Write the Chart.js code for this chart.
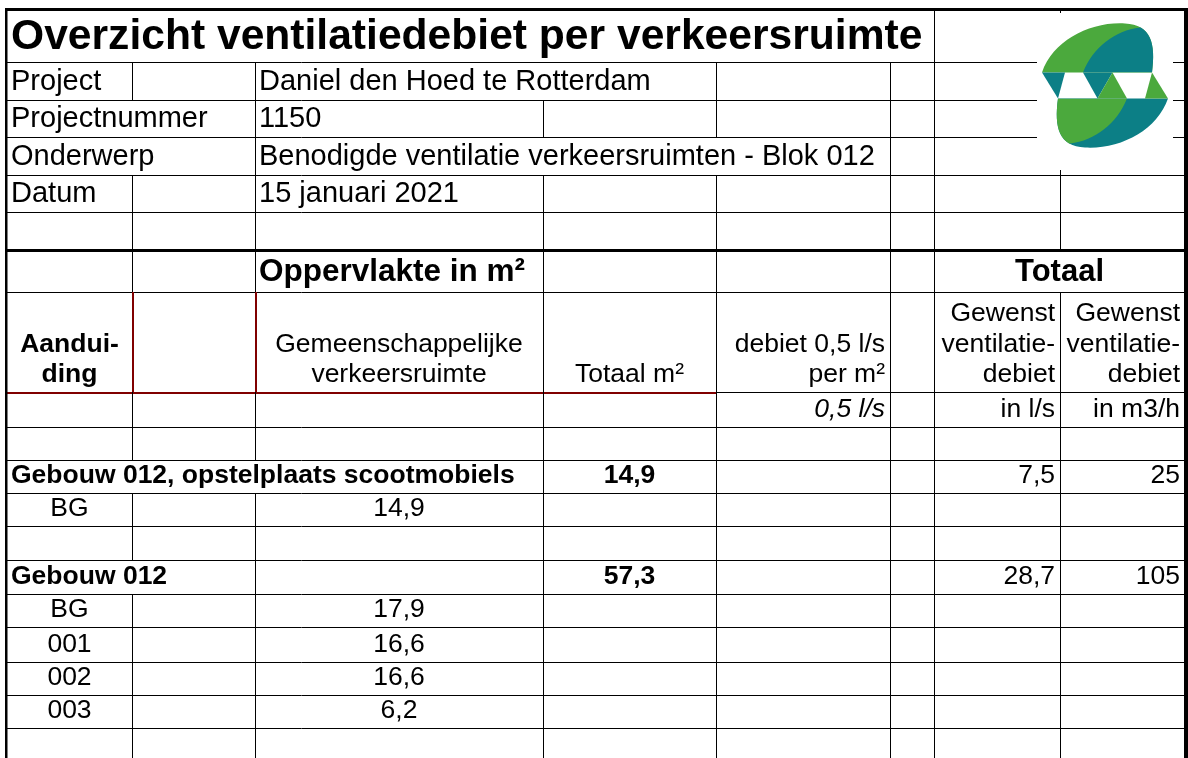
<!DOCTYPE html>
<html lang="nl">
<head>
<meta charset="utf-8">
<title>Overzicht ventilatiedebiet per verkeersruimte</title>
<script src="https://cdn.jsdelivr.net/npm/chart.js@4.4.1/dist/chart.umd.min.js"></script>
<style>
  html, body { margin: 0; padding: 0; background: #fff; }
  #sheet { display: block; }
</style>
</head>
<body>
<canvas id="sheet" width="1188" height="758"></canvas>
<script>
// sheet contents
var title = 'Overzicht ventilatiedebiet per verkeersruimte';
var infoLabels = ['Project', 'Projectnummer', 'Onderwerp', 'Datum'];
var infoValues = ['Daniel den Hoed te Rotterdam', '1150', 'Benodigde ventilatie verkeersruimten - Blok 012', '15 januari 2021'];
var flowPerM2 = '0,5 l/s';
var groups = ['Gebouw 012, opstelplaats scootmobiels', 'Gebouw 012'];
var groupArea = [14.9, 57.3];
var groupFlowLs = [7.5, 28.7];
var groupFlowM3h = [25, 105];
var floors = ['BG', 'BG', '001', '002', '003'];
var floorGroup = [0, 1, 1, 1, 1];
var floorArea = [14.9, 17.9, 16.6, 16.6, 6.2];

// grid layout (sheet units = pixels of the picture)
var colX = [7, 132, 255, 543, 716, 890, 934, 1060, 1185];
var rowY = [10, 62, 100, 137, 175, 212, 250, 292, 392, 427, 460, 493, 526, 560, 594, 627, 662, 695, 728, 758];

var FONT = '"Liberation Sans", Arial, sans-serif';
function font(size, bold, italic) {
  return (italic ? 'italic ' : '') + (bold ? 'bold ' : '') + size + 'px ' + FONT;
}
function fmt(v) { return v.toFixed(1).replace('.', ','); }

// build the rows
var sheet = [];
sheet.push({ cells: [{ col: 0, text: [title], size: 42.6, bold: true, overflow: true }] });
infoLabels.forEach(function (lab, i) {
  sheet.push({ cells: [
    { col: 0, text: [lab], size: 29, overflow: true },
    { col: 2, text: [infoValues[i]], size: 29, overflow: true }
  ] });
});
sheet.push({ cells: [] });
sheet.push({ cells: [
  { col: 2, text: ['Oppervlakte in m²'], size: 31.5, bold: true, overflow: true },
  { col: 6, span: 2, text: ['Totaal'], size: 31, bold: true, align: 'center' }
] });
sheet.push({ red: true, cells: [
  { col: 0, text: ['Aandui-', 'ding'], size: 26.5, bold: true, align: 'center' },
  { col: 2, text: ['Gemeenschappelijke', 'verkeersruimte'], size: 26.5, align: 'center' },
  { col: 3, text: ['Totaal m²'], size: 26.5, align: 'center' },
  { col: 4, text: ['debiet ' + flowPerM2, 'per m²'], size: 26.5, align: 'right' },
  { col: 6, text: ['Gewenst', 'ventilatie-', 'debiet'], size: 26.5, align: 'right' },
  { col: 7, text: ['Gewenst', 'ventilatie-', 'debiet'], size: 26.5, align: 'right' }
] });
sheet.push({ cells: [
  { col: 4, text: [flowPerM2], size: 26.5, italic: true, align: 'right' },
  { col: 6, text: ['in l/s'], size: 26.5, align: 'right' },
  { col: 7, text: ['in m3/h'], size: 26.5, align: 'right' }
] });
sheet.push({ cells: [] });
groups.forEach(function (g, gi) {
  sheet.push({ cells: [
    { col: 0, text: [g], size: 26.5, bold: true, overflow: true },
    { col: 3, text: [fmt(groupArea[gi])], size: 26.5, bold: true, align: 'center' },
    { col: 6, text: [fmt(groupFlowLs[gi])], size: 26.5, align: 'right' },
    { col: 7, text: [String(groupFlowM3h[gi])], size: 26.5, align: 'right' }
  ] });
  floors.forEach(function (f, fi) {
    if (floorGroup[fi] !== gi) return;
    sheet.push({ cells: [
      { col: 0, text: [f], size: 26.5, align: 'center' },
      { col: 2, text: [fmt(floorArea[fi])], size: 26.5, align: 'center' }
    ] });
  });
  sheet.push({ cells: [] });
});

function drawLogo(ctx, cx, cy) {
  var green = '#4ba93d', teal = '#0c7f86';
  function poly(pts, col) {
    ctx.beginPath();
    ctx.moveTo(pts[0][0], pts[0][1]);
    for (var i = 1; i < pts.length; i++) ctx.lineTo(pts[i][0], pts[i][1]);
    ctx.closePath();
    ctx.fillStyle = col;
    ctx.fill();
  }
  // one half, the other one is the same turned round with colours swapped
  function half(outerCol, innerCol) {
    ctx.beginPath();
    ctx.moveTo(-63, -13);
    ctx.bezierCurveTo(-52, -45, -15, -64, 20, -62);
    ctx.bezierCurveTo(46, -61, 51, -42, 47, -13);
    ctx.closePath();
    ctx.fillStyle = outerCol;
    ctx.fill();
    ctx.save();
    ctx.clip();
    ctx.beginPath();
    ctx.moveTo(-22, -13);
    ctx.bezierCurveTo(-12, -38, 10, -55, 35, -58);
    ctx.lineTo(80, -80);
    ctx.lineTo(80, -13);
    ctx.closePath();
    ctx.fillStyle = innerCol;
    ctx.fill();
    ctx.restore();
    poly([[-63, -13], [-40, -13], [-47, 13]], innerCol);
    poly([[-22, -13], [7.5, -13], [-7.5, 13]], innerCol);
  }
  ctx.save();
  ctx.translate(cx, cy);
  half(green, teal);
  ctx.rotate(Math.PI);
  half(teal, green);
  ctx.restore();
}

var sheetPlugin = {
  id: 'sheet',
  afterDraw: function (chart) {
    var ctx = chart.ctx;
    var sx = chart.scales.x, sy = chart.scales.y;
    function X(v) { return sx.getPixelForValue(v); }
    function Y(v) { return sy.getPixelForValue(v); }
    var ncol = colX.length - 1;

    // spans, text overflows into empty neighbours like in the spreadsheet
    sheet.forEach(function (row) {
      row.hidden = {};
      var used = {};
      row.cells.forEach(function (c) { used[c.col] = true; });
      row.cells.forEach(function (c) {
        c.span = c.span || 1;
        if (c.overflow) {
          ctx.font = font(c.size, c.bold, c.italic);
          var w = ctx.measureText(c.text[0]).width;
          while (c.col + c.span < ncol && !used[c.col + c.span] &&
                 X(colX[c.col + c.span]) - X(colX[c.col]) < w + 6) {
            c.span++;
          }
        }
        for (var k = c.col + 1; k < c.col + c.span; k++) row.hidden[k] = true;
      });
    });

    ctx.save();
    ctx.fillStyle = '#fff';
    ctx.fillRect(0, 0, chart.width, chart.height);

    // thin grid
    ctx.lineWidth = 1;
    sheet.forEach(function (row, r) {
      var y0 = Y(rowY[r]), y1 = Y(rowY[r + 1]);
      ctx.strokeStyle = '#000';
      if (r < sheet.length - 1) {
        ctx.beginPath();
        ctx.moveTo(X(colX[0]), Math.round(y1) + 0.5);
        ctx.lineTo(X(colX[ncol]), Math.round(y1) + 0.5);
        ctx.stroke();
      }
      for (var k = 1; k < ncol; k++) {
        if (row.hidden[k]) continue;
        var red = row.red && (k === 1 || k === 2);
        ctx.strokeStyle = red ? '#800000' : '#000';
        ctx.lineWidth = red ? 2 : 1;
        var xx = red ? Math.round(X(colX[k])) + 1 : Math.round(X(colX[k])) + 0.5;
        ctx.beginPath();
        ctx.moveTo(xx, y0);
        ctx.lineTo(xx, y1);
        ctx.stroke();
        ctx.lineWidth = 1;
      }
      if (row.red) {
        ctx.strokeStyle = '#800000';
        ctx.lineWidth = 2;
        ctx.beginPath();
        ctx.moveTo(X(colX[0]), Math.round(y1) + 1);
        ctx.lineTo(X(colX[4]), Math.round(y1) + 1);
        ctx.stroke();
        ctx.lineWidth = 1;
      }
    });

    // heavy outline
    ctx.fillStyle = '#000';
    var L = X(colX[0]), R = X(colX[ncol]), T = Y(rowY[0]);
    ctx.fillRect(L - 2, T - 2, R - L + 5, 3);
    ctx.fillRect(L - 2, T - 2, 2.5, chart.height - T + 2);
    ctx.fillRect(R - 1, T - 2, 4, chart.height - T + 2);
    ctx.fillRect(L - 2, Y(rowY[6]) - 1, R - L + 5, 3);

    // logo on a white patch
    ctx.fillStyle = '#fff';
    ctx.fillRect(X(1037), Y(13), X(1173) - X(1037), Y(170) - Y(13));
    drawLogo(ctx, X(1105), Y(85.5));

    // texts
    ctx.fillStyle = '#000';
    ctx.textBaseline = 'alphabetic';
    sheet.forEach(function (row, r) {
      var bottom = Y(rowY[r + 1]);
      row.cells.forEach(function (c) {
        var align = c.align || 'left';
        ctx.font = font(c.size, c.bold, c.italic);
        ctx.textAlign = align;
        var left = X(colX[c.col]), right = X(colX[c.col + c.span]);
        var base = bottom - c.size * 0.212 - 4;
        var lh = c.size * 1.16;
        c.text.forEach(function (t, i) {
          var y = base - (c.text.length - 1 - i) * lh;
          var x = align === 'center' ? (left + right) / 2 : align === 'right' ? right - 5 : left + 4;
          ctx.fillText(t, x, y);
        });
      });
    });
    ctx.restore();
  }
};

new Chart(document.getElementById('sheet'), {
  type: 'scatter',
  data: { datasets: [] },
  options: {
    responsive: false,
    animation: false,
    devicePixelRatio: 1,
    layout: { padding: 0 },
    events: [],
    plugins: { legend: { display: false }, tooltip: { enabled: false } },
    scales: {
      x: { type: 'linear', min: 0, max: 1188, display: false },
      y: { type: 'linear', min: 0, max: 758, reverse: true, display: false }
    }
  },
  plugins: [sheetPlugin]
});
</script>
</body>
</html>
